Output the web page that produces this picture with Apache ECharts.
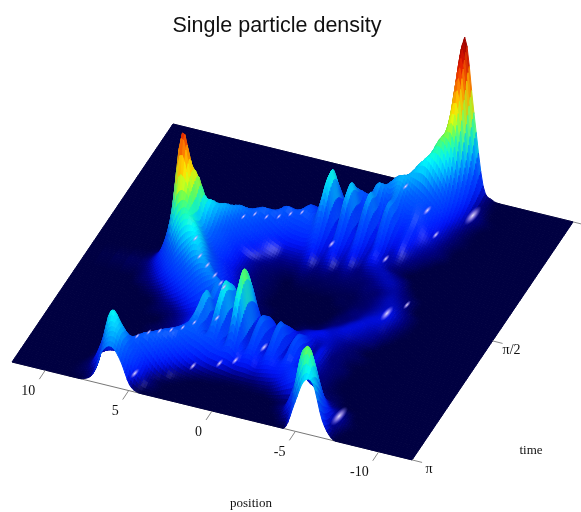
<!DOCTYPE html>
<html><head><meta charset="utf-8">
<style>html,body{margin:0;padding:0;background:#fff}#c{width:581px;height:512px}</style>
<script src="https://cdn.jsdelivr.net/npm/echarts@6/dist/echarts.min.js"></script>
</head><body><div id="c"></div>
<script>
const titleText='Single particle density';
const positionTitle='position';
const timeTitle='time';
const positionTicks=[10,5,0,-5,-10];
const timeTickValues=[0,0.5,1];
const timeTickLabels=['','π/2','π'];
const edgePosition=12;
const positions=[8.8,8.25,7.7,7.15,6.6,6.05,5.5,4.95,4.4,3.85,3.3,2.75,2.2,1.65,1.1,0.55,0,-0.55,-1.1,-1.65,-2.2,-2.75,-3.3,-3.85,-4.4,-4.95,-5.5,-6.05,-6.6,-7.15,-7.7,-8.25,-8.8];
const t00=[0,0,0,0,0,0,0,0, 0,0,0,0,0,0,0,0, 0, 0,0,0,1,4,10,22,45, 90,158,85,14,2,0,0,0];
const t01=[0,0,0,0,0,0,0,0, 0,0,0,0,0,0,0,0, 0, 0,0,0,1,4,10,22,42, 80,135,60,10,2,0,0,0];
const t02=[0,0,0,0,0,0,0,0, 0,0,0,0,0,0,0,0, 0, 0,0,0,2,6,12,24,45, 75,95,38,8,3,0,0,0];
const t03=[0,0,0,0,0,0,0,0, 0,0,0,0,0,0,0,0, 0, 0,0,1,3,7,15,30,58, 75,60,22,7,4,1,0,0];
const t04=[0,0,0,0,0,0,0,0, 0,0,0,0,0,0,0,0, 0, 0,1,4,10,20,36,52,60, 50,34,14,6,2,0,0,0];
const t05=[0,0,0,0,0,0,0,0, 0,0,0,0,0,0,0,0, 0, 2,6,14,28,42,48,42,36, 28,18,9,4,1,0,0,0];
const t06=[0,0,0,0,0,0,0,0, 0,0,0,0,0,0,2,4, 16, 14,30,30,44,34,42,30,26, 20,12,7,3,1,0,0,0];
const t07=[0,0,0,0,0,0,0,0, 0,0,0,1,3,6,12,14, 42, 12,42,14,42,16,40,18,20, 14,9,5,2,0,0,0,0];
const t08=[0,0,0,0,0,0,0,0, 0,1,3,6,12,14,22,18, 63, 8,54,8,48,10,42,14,16, 10,6,4,2,0,0,0,0];
const t09=[0,0,0,0,0,0,0,0, 0,2,5,10,18,20,30,24, 58, 10,48,10,40,10,32,10,12, 7,4,2,0,0,0,0,0];
const t10=[0,0,0,0,0,0,0,0, 2,6,14,24,32,30,30,26, 42, 10,32,10,26,8,18,7,7, 4,2,0,0,0,0,0,0];
const t11=[0,0,0,0,0,0,2,6, 16,28,34,32,26,20,18,18, 26, 9,20,8,15,7,12,8,4, 2,0,0,0,0,0,0,0];
const t12=[0,0,0,0,2,5,14,30, 39,36,28,20,14,10,9,9, 14, 7,11,6,8,4,6,7,7, 5,3,0,0,0,0,0,0];
const t13=[0,0,1,3,8,20,38,46, 38,26,18,12,8,5,5,5, 7, 4,5,3,4,3,3,4,6, 7,5,2,0,0,0,0,0];
const t14=[0,0,2,5,16,36,55,42, 26,16,10,6,4,3,2,2, 3, 2,2,2,2,2,2,3,3, 5,6,4,2,0,0,0,0];
const t15=[0,1,3,12,42,85,58,36, 24,14,8,5,3,2,1,0, 1, 1,1,1,1,1,1,2,3, 5,7,6,3,0,0,0,0];
const t16=[1,4,16,55,132,95,50,34, 20,13,8,5,3,2,1,0, 0, 0,0,0,0,1,1,2,3, 5,7,8,5,2,0,0,0];
const t17=[2,5,14,35,78,80,56,40, 26,16,10,6,4,2,1,0, 0, 0,0,0,0,0,1,3,4, 6,8,10,6,2,0,0,0];
const t18=[1,3,8,18,38,60,64,52, 36,22,13,8,5,3,1,0, 0, 0,0,0,0,0,2,3,5, 8,9,8,4,1,0,0,0];
const t19=[0,2,4,9,18,32,45,55, 45,30,18,11,6,3,2,1, 0, 0,0,0,0,1,3,5,8, 9,7,5,2,0,0,0,0];
const t20=[0,0,1,3,7,14,24,36, 45,42,30,18,10,6,3,1, 0, 0,0,1,2,3,6,8,9, 7,5,3,0,0,0,0,0];
const t21=[0,0,0,0,2,5,9,16, 26,36,40,36,24,16,8,4, 2, 1,2,4,7,9,10,8,6, 4,2,0,0,0,0,0,0];
const t22=[0,0,0,0,1,2,3,6, 10,15,24,40,24,42,22,40, 14, 20,8,16,9,12,7,8,5, 3,2,1,0,0,0,0,0];
const t23=[0,0,0,0,0,0,2,4, 7,12,16,38,14,54,12,68, 10, 30,8,26,8,20,6,10,4, 3,1,0,0,0,0,0,0];
const t24=[0,0,0,0,0,1,2,4, 7,14,18,50,12,63,10,79, 8, 37,7,36,7,28,8,10,5, 3,2,0,0,0,0,0,0];
const t25=[0,0,0,0,0,1,3,6, 12,18,22,46,14,55,12,66, 10, 34,9,32,9,28,12,10,5, 3,1,0,0,0,0,0,0];
const t26=[0,0,0,0,0,2,4,10, 16,22,30,40,24,40,18,40, 16, 24,13,22,14,20,14,12,5, 3,1,0,0,0,0,0,0];
const t27=[0,0,0,2,3,4,8,18, 26,30,32,30,26,22,18,18, 12, 12,9,11,12,14,18,16,8, 4,2,1,0,0,0,0,0];
const t28=[0,0,2,5,8,10,18,28, 32,30,22,14,9,6,4,3, 2, 2,2,3,4,8,14,20,24, 14,6,3,1,0,0,0,0];
const t29=[0,0,4,10,14,22,30,34, 28,16,7,3,1,0,0,0, 0, 0,0,0,0,1,3,6,22, 38,26,9,5,3,0,0,0];
const t30=[0,1,6,28,59,48,34,22, 10,3,1,0,0,0,0,0, 0, 0,0,0,0,0,2,8,32, 67,58,24,8,5,1,0,0];
const t31=[0,1,3,12,46,50,36,18, 6,2,0,0,0,0,0,0, 0, 0,0,0,0,0,0,3,14, 60,77,40,10,3,0,0,0];
const t32=[0,0,1,8,33,40,28,6, 0,0,0,0,0,0,0,0, 0, 0,0,0,0,0,0,0,2, 28,52,52,18,2,0,0,0];
const timeRows=[t00,t01,t02,t03,t04,t05,t06,t07,t08,t09,t10,t11,t12,t13,t14,t15,t16,t17,t18,t19,t20,t21,t22,t23,t24,t25,t26,t27,t28,t29,t30,t31,t32];
// small bright highlights: position, fraction of the time range, relative size
const glintPos=[-6.8,-5.95,-6.45,-6.9,4.87, 2.2,2.75,3.3,3.85,4.4,1.65, 4.95,4.4,3.85,3.3,2.75, 5.5,4.95,4.4,3.85,3.3,2.75, 2.3,0.9,0.1,-0.9, 1.8,2.4, -0.9,-3.9,-5.7,-4.9,-3.6];
const glintTime=[0.085,0.53,0.457,0.925,0.975, 0.285,0.30,0.32,0.335,0.35,0.27, 0.59,0.62,0.63,0.64,0.66, 0.895,0.88,0.87,0.855,0.84,0.825, 0.88,0.86,0.845,0.77, 0.74,0.72, 0.35,0.325,0.20,0.17,0.17];
const glintSize=[1.5,1.2,0.7,1.5,0.8, 0.5,0.5,0.5,0.5,0.5,0.5, 0.6,0.6,0.6,0.6,0.6, 0.5,0.5,0.5,0.5,0.5,0.5, 0.7,0.7,0.7,0.8, 0.6,0.6, 0.7,0.7,0.7,0.8,0.6];
const heightStops=[0,4,10,18,35,47,58,68,78,94,114,134,158];
const colourStops=[[0,0,62],[0,0,120],[0,15,225],[0,45,255],[0,90,255],[0,170,255],[0,235,250],[30,255,170],[110,255,70],[255,250,0],[255,140,0],[235,20,0],[130,0,0]];

const base=timeRows.map(r=>[0,...r,0]);
const baseXs=[edgePosition,...positions,-edgePosition];
const FINE=4;
function spline(a,b,c,d,f){
  return 0.5*(2*b+(c-a)*f+(2*a-5*b+4*c-d)*f*f+(3*b-a-3*c+d)*f*f*f);
}
function fineLine(arr){
  const out=[];
  for(let i=0;i<arr.length-1;i++){
    for(let k=0;k<FINE;k++){
      out.push(spline(arr[Math.max(i-1,0)],arr[i],arr[i+1],arr[Math.min(i+2,arr.length-1)],k/FINE));
    }
  }
  out.push(arr[arr.length-1]);
  return out;
}
const byRow=base.map(fineLine);
const nCols=byRow[0].length;
const fineCols=[];
for(let j=0;j<nCols;j++)fineCols.push(fineLine(byRow.map(r=>r[j])));
const nRows=fineCols[0].length;
const grid=[];
for(let i=0;i<nRows;i++){const r=[];for(let j=0;j<nCols;j++)r.push(Math.max(0,fineCols[j][i]));grid.push(r);}
const xs=[];
for(let i=0;i<baseXs.length-1;i++)for(let k=0;k<FINE;k++)xs.push(baseXs[i]+(baseXs[i+1]-baseXs[i])*k/FINE);
xs.push(baseXs[baseXs.length-1]);
const nT=nRows-1;
function project(x,frac,h){
  const u=edgePosition-x, s=1-frac;
  return [12+u*16.67+161*s, 362+u*4.08-238*s-h];
}
function heightAt(x,frac){
  let j=0,best=1e9;
  xs.forEach((v,k)=>{const d=Math.abs(v-x);if(d<best){best=d;j=k;}});
  return grid[Math.round(frac*nT)][j];
}
function ramp(h){
  if(h<=heightStops[0])return colourStops[0].slice();
  for(let i=1;i<heightStops.length;i++){
    if(h<=heightStops[i]){
      const a=(h-heightStops[i-1])/(heightStops[i]-heightStops[i-1]);
      return colourStops[i-1].map((c,k)=>c+(colourStops[i][k]-c)*a);
    }
  }
  return colourStops[colourStops.length-1].slice();
}
function norm(v){const l=Math.hypot(...v);return v.map(a=>a/l);}
const L=norm([0.3,-0.5,0.8]), HV=norm([0.45,-0.55,1]);
function vertexColour(i,j){
  const h=grid[i][j];
  const jm=Math.max(j-1,0),jp=Math.min(j+1,xs.length-1),im=Math.max(i-1,0),ip=Math.min(i+1,nT);
  const dX=(grid[i][jp]-grid[i][jm])/((xs[jm]-xs[jp])*17);
  const dS=(grid[im][j]-grid[ip][j])/(((ip-im)/nT)*290);
  const n=norm([-dX,-dS,1]);
  const diff=Math.max(0,n[0]*L[0]+n[1]*L[1]+n[2]*L[2]);
  const spec=Math.pow(Math.max(0,n[0]*HV[0]+n[1]*HV[1]+n[2]*HV[2]),160);
  const shade=0.88+0.2*diff;
  let c=ramp(h).map(v=>Math.min(255,v*shade));
  const m=Math.min(0.35,spec*0.4)*Math.min(1,h/3);
  return [c[0]+(225-c[0])*m,c[1]+(215-c[1])*m,c[2]+(255-c[2])*m];
}
const vcol=grid.map((r,i)=>r.map((_,j)=>vertexColour(i,j)));
const css=c=>'rgb('+c.map(v=>Math.round(v)).join(',')+')';
const cells=[];
for(let i=0;i<nT;i++)for(let j=0;j<xs.length-1;j++){
  const p=project((xs[j]+xs[j+1])/2,(i+0.5)/nT,0);
  cells.push([j,i,p[1]]);
}
cells.sort((a,b)=>a[2]-b[2]);

function renderCell(params,api){
  const j=api.value(0),i=api.value(1);
  const corners=[[i,j],[i,j+1],[i+1,j+1],[i+1,j]];
  const pts=corners.map(([a,b])=>api.coord(project(xs[b],a/nT,grid[a][b])));
  const avg=[0,1,2].map(k=>corners.reduce((s,[a,b])=>s+vcol[a][b][k],0)/4);
  const col=css(avg);
  return {type:'polygon',shape:{points:pts},style:{fill:col,stroke:col,lineWidth:1},silent:true};
}
function renderGlint(params,api){
  const x=api.value(0),f=api.value(1),sz=api.value(2);
  const c=api.coord(project(x,f,heightAt(x,f)));
  return {type:'circle',x:c[0],y:c[1],rotation:0.85,scaleX:1,scaleY:0.38,shape:{cx:0,cy:0,r:8*sz},silent:true,
    style:{fill:{type:'radial',x:0.5,y:0.5,r:0.5,colorStops:[
      {offset:0,color:'rgba(238,232,255,0.95)'},{offset:0.45,color:'rgba(190,170,255,0.6)'},{offset:1,color:'rgba(120,110,255,0)'}]}}};
}
function renderPosTick(params,api){
  const x=api.value(0);
  const a=api.coord(project(x,1,0));
  const b=[a[0]-6,a[1]+9];
  return {type:'group',children:[
    {type:'line',shape:{x1:a[0],y1:a[1],x2:b[0],y2:b[1]},style:{stroke:'#888',lineWidth:1}},
    {type:'text',style:{x:a[0]-10,y:a[1]+21,text:String(x),fill:'#111',font:'14px "Liberation Serif"',align:'right',verticalAlign:'middle'}}
  ]};
}
function renderTimeTick(params,api){
  const f=api.value(0);
  const a=api.coord(project(-edgePosition,f,0));
  const lbl=timeTickLabels[params.dataIndex];
  return {type:'group',children:[
    {type:'line',shape:{x1:a[0],y1:a[1],x2:a[0]+10,y2:a[1]+2.5},style:{stroke:'#888',lineWidth:1}},
    {type:'text',style:{x:a[0]+(f===1?17:19),y:a[1]+9,text:lbl,fill:'#111',font:'14px "Liberation Serif"',align:'center',verticalAlign:'middle'}}
  ]};
}
function renderEdge(params,api){
  const f=api.value(0);
  const a=api.coord(project(edgePosition,f,0)),b=api.coord(project(-edgePosition,f,0));
  return {type:'line',shape:{x1:a[0],y1:a[1],x2:b[0],y2:b[1]},style:{stroke:'#777',lineWidth:1}};
}
const chart=echarts.init(document.getElementById('c'),null,{renderer:'canvas'});
const frame={type:'value',show:false,min:0};
chart.setOption({
  animation:false,
  backgroundColor:'#fff',
  title:{text:titleText,left:272,top:10,textAlign:'center',textStyle:{fontFamily:'Liberation Sans',fontSize:21.5,fontWeight:'normal',color:'#111'}},
  grid:{left:0,right:0,top:0,bottom:0},
  xAxis:{...frame,max:581},
  yAxis:{...frame,max:512,inverse:true},
  graphic:[
    {type:'text',x:251,y:504,style:{text:positionTitle,fill:'#111',font:'13px "Liberation Serif"',align:'center',verticalAlign:'middle'}},
    {type:'text',x:531,y:451,style:{text:timeTitle,fill:'#111',font:'13px "Liberation Serif"',align:'center',verticalAlign:'middle'}}
  ],
  series:[
    {type:'custom',z:1,clip:false,silent:true,renderItem:renderEdge,data:[[0],[1]],encode:{x:[],y:[]}},
    {type:'custom',z:2,clip:false,silent:true,renderItem:renderCell,data:cells,progressive:0,encode:{x:[],y:[]}},
    {type:'custom',z:3,clip:false,silent:true,renderItem:renderGlint,data:glintPos.map((p,i)=>[p,glintTime[i],glintSize[i]]),encode:{x:[],y:[]}},
    {type:'custom',z:3,clip:false,silent:true,renderItem:renderPosTick,data:positionTicks.map(v=>[v]),encode:{x:[],y:[]}},
    {type:'custom',z:3,clip:false,silent:true,renderItem:renderTimeTick,data:timeTickValues.map(v=>[v]),encode:{x:[],y:[]}}
  ]
});
</script></body></html>
